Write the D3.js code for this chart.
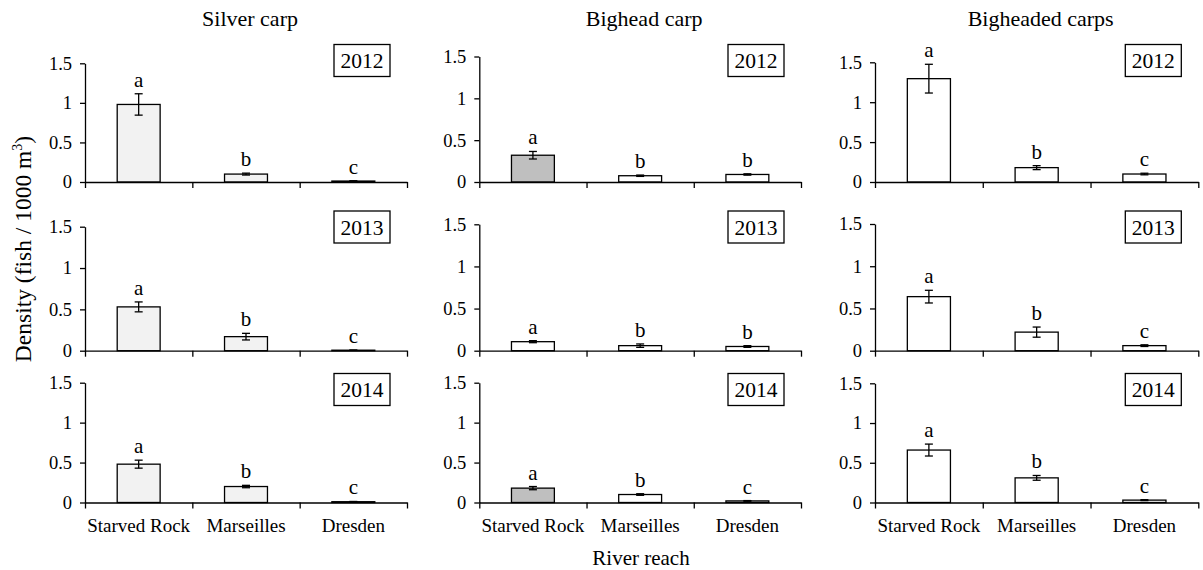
<!DOCTYPE html>
<html>
<head>
<meta charset="utf-8">
<script src="https://cdn.jsdelivr.net/npm/d3@7"></script>
<style>
body { margin: 0; background: #fff; }
text { font-family: "Liberation Serif", "Times New Roman", serif; fill: #000; }
</style>
</head>
<body>
<svg id="canvas"></svg>
<script>
var width = 1203
var height = 570

var species = ["Silver carp", "Bighead carp", "Bigheaded carps"]
var years = ["2012", "2013", "2014"]
var reaches = ["Starved Rock", "Marseilles", "Dresden"]
var yTicks = [0, 0.5, 1, 1.5]

// mean density, rows = years, cols = reaches
var silverMean = [[0.98, 0.10, 0.012], [0.53, 0.17, 0.006], [0.48, 0.20, 0.01]]
var silverErr = [[0.135, 0.012, 0.004], [0.06, 0.04, 0.002], [0.05, 0.015, 0.003]]
var bigheadMean = [[0.32, 0.075, 0.09], [0.107, 0.06, 0.05], [0.18, 0.10, 0.02]]
var bigheadErr = [[0.045, 0.008, 0.008], [0.012, 0.02, 0.01], [0.02, 0.01, 0.004]]
var bigheadedMean = [[1.295, 0.18, 0.10], [0.64, 0.22, 0.06], [0.66, 0.31, 0.03]]
var bigheadedErr = [[0.18, 0.025, 0.01], [0.075, 0.06, 0.01], [0.075, 0.03, 0.006]]

var silverLetters = [["a", "b", "c"], ["a", "b", "c"], ["a", "b", "c"]]
var bigheadLetters = [["a", "b", "b"], ["a", "b", "b"], ["a", "b", "c"]]
var bigheadedLetters = [["a", "b", "c"], ["a", "b", "c"], ["a", "b", "c"]]

// shading group of each bar
var silverShade = [["light", "light", "light"], ["light", "light", "light"], ["light", "light", "light"]]
var bigheadShade = [["dark", "white", "white"], ["white", "white", "white"], ["dark", "white", "white"]]
var bigheadedShade = [["white", "white", "white"], ["white", "white", "white"], ["white", "white", "white"]]

var means = [silverMean, bigheadMean, bigheadedMean]
var errs = [silverErr, bigheadErr, bigheadedErr]
var letters = [silverLetters, bigheadLetters, bigheadedLetters]
var shades = [silverShade, bigheadShade, bigheadedShade]

var shadeColor = {light: "#f2f2f2", dark: "#bfbfbf", white: "#ffffff"}

// panel layout
var colX = [[85, 407], [479.3, 801], [875, 1198.3]]
var rowBottom = [182, 350.7, 502.5]
var rowTop = [[63.3, 56.5, 62.3], [226.7, 224.3, 224], [382.7, 382.7, 383.3]]
var boxTop = [44.5, 211, 373.5]

var svg = d3.select("#canvas")
	.attr("width", width)
	.attr("height", height)

for (var c = 0; c < 3; c++) {
	var x = d3.scaleBand()
		.domain(reaches)
		.range(colX[c])
		.padding(0)

	var edge = d3.scaleLinear()
		.domain([0, 3])
		.range(colX[c])

	svg.append("text")
		.attr("x", (colX[c][0] + colX[c][1]) / 2 + 4)
		.attr("y", 26)
		.attr("text-anchor", "middle")
		.style("font-size", "22px")
		.text(species[c])

	for (var r = 0; r < 3; r++) {
		var y = d3.scaleLinear()
			.domain([0, 1.5])
			.range([rowBottom[r], rowTop[r][c]])

		var g = svg.append("g")

		var rows = reaches.map(function(d, i) {
			return {reach: d, mean: means[c][r][i], err: errs[c][r][i],
				letter: letters[c][r][i], shade: shades[c][r][i]}
		})

		var bw = x.bandwidth() * 0.4

		g.selectAll("rect.bar")
			.data(rows)
			.join("rect")
			.attr("class", "bar")
			.attr("x", function(d) { return x(d.reach) + (x.bandwidth() - bw) / 2 })
			.attr("y", function(d) { return y(d.mean) })
			.attr("width", bw)
			.attr("height", function(d) { return y(0) - y(d.mean) })
			.attr("fill", function(d) { return shadeColor[d.shade] })
			.attr("stroke", "#000")
			.attr("stroke-width", 1.3)

		var cx = function(d) { return x(d.reach) + x.bandwidth() / 2 }

		g.selectAll("line.err")
			.data(rows)
			.join("line")
			.attr("class", "err")
			.attr("x1", cx).attr("x2", cx)
			.attr("y1", function(d) { return y(d.mean + d.err) })
			.attr("y2", function(d) { return y(d.mean - d.err) })
			.attr("stroke", "#000")
			.attr("stroke-width", 1.3)

		g.selectAll("line.capTop")
			.data(rows)
			.join("line")
			.attr("class", "capTop")
			.attr("x1", function(d) { return cx(d) - 4 })
			.attr("x2", function(d) { return cx(d) + 4 })
			.attr("y1", function(d) { return y(d.mean + d.err) })
			.attr("y2", function(d) { return y(d.mean + d.err) })
			.attr("stroke", "#000")
			.attr("stroke-width", 1.3)

		g.selectAll("line.capBot")
			.data(rows)
			.join("line")
			.attr("class", "capBot")
			.attr("x1", function(d) { return cx(d) - 4 })
			.attr("x2", function(d) { return cx(d) + 4 })
			.attr("y1", function(d) { return y(d.mean - d.err) })
			.attr("y2", function(d) { return y(d.mean - d.err) })
			.attr("stroke", "#000")
			.attr("stroke-width", 1.3)

		g.selectAll("text.letter")
			.data(rows)
			.join("text")
			.attr("class", "letter")
			.attr("x", cx)
			.attr("y", function(d) { return y(d.mean + d.err) - 7 })
			.attr("text-anchor", "middle")
			.style("font-size", "21px")
			.text(function(d) { return d.letter })

		// y axis
		var ya = g.append("g")
			.attr("transform", "translate(" + colX[c][0] + ",0)")
			.call(d3.axisLeft(y)
				.tickValues(yTicks)
				.tickSize(5)
				.tickSizeOuter(0)
				.tickPadding(8)
				.tickFormat(function(d) { return d3.format("")(d) }))
		ya.attr("font-family", null)
		ya.selectAll("text").style("font-size", "18.5px").attr("fill", "#000")
		ya.selectAll("line, path").attr("stroke", "#000").attr("stroke-width", 1.3)

		// x axis with ticks at reach boundaries
		var xa = g.append("g")
			.attr("transform", "translate(0," + rowBottom[r] + ")")
			.call(d3.axisBottom(edge)
				.tickValues([0, 1, 2, 3])
				.tickSize(6)
				.tickSizeOuter(0)
				.tickFormat(""))
		xa.selectAll("line, path").attr("stroke", "#000").attr("stroke-width", 1.3)

		// year box
		var bx = colX[c][1] - 17 - 56
		g.append("rect")
			.attr("x", bx)
			.attr("y", boxTop[r])
			.attr("width", 56)
			.attr("height", 32)
			.attr("fill", "#fff")
			.attr("stroke", "#000")
			.attr("stroke-width", 1.3)
		g.append("text")
			.attr("x", bx + 28)
			.attr("y", boxTop[r] + 23.5)
			.attr("text-anchor", "middle")
			.style("font-size", "21.5px")
			.text(years[r])

		if (r == 2) {
			g.selectAll("text.cat")
				.data(reaches)
				.join("text")
				.attr("class", "cat")
				.attr("x", function(d) { return x(d) + x.bandwidth() / 2 })
				.attr("y", 531.5)
				.attr("text-anchor", "middle")
				.style("font-size", "19px")
				.text(function(d) { return d })
		}
	}
}

svg.append("text")
	.attr("x", 641)
	.attr("y", 565)
	.attr("text-anchor", "middle")
	.style("font-size", "21px")
	.text("River reach")

var yl = svg.append("text")
	.attr("transform", "translate(31,249) rotate(-90)")
	.attr("text-anchor", "middle")
	.style("font-size", "23.5px")
yl.append("tspan").text("Density (fish / 1000 m")
yl.append("tspan").attr("dy", -9).style("font-size", "14px").text("3")
yl.append("tspan").attr("dy", 9).text(")")
</script>
</body>
</html>
